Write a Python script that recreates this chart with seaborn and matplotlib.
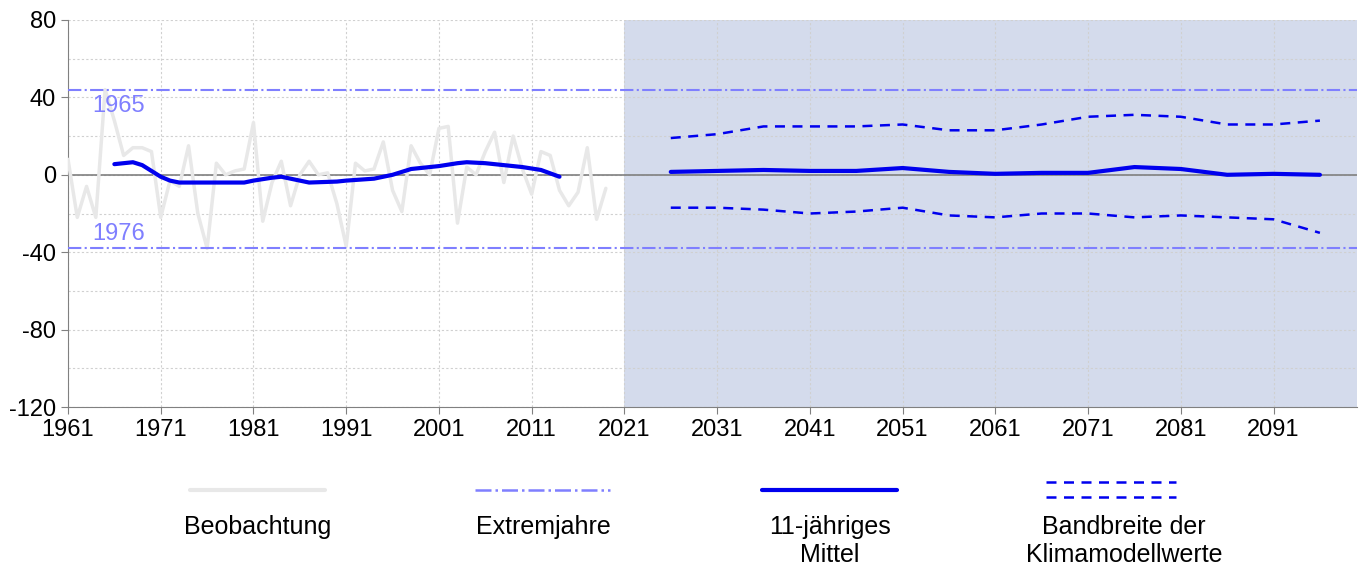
import numpy as np
import pandas as pd
import matplotlib
matplotlib.use("Agg")
import matplotlib.pyplot as plt
import seaborn as sns

obs_years = list(range(1961, 2020))
obs_vals = [8, -22, -6, -22, 44, 28, 10, 14, 14, 12, -22, -3, -6, 15, -20, -38, 6, 0, 2, 3,
            27, -24, -4, 7, -16, 0, 7, 0, 1, -15, -37, 6, 2, 3, 17, -8, -19, 15, 6, 0,
            24, 25, -25, 4, 0, 12, 22, -4, 20, 3, -10, 12, 10, -8, -16, -9, 14, -23, -7]
mean_years = [1966, 1967, 1968, 1969, 1970, 1971, 1972, 1973, 1976, 1980, 1981, 1983, 1984, 1985,
              1987, 1990, 1991, 1994, 1996, 1998, 2000, 2001, 2003, 2004, 2006, 2008, 2010, 2012, 2014]
mean_vals = [5.5, 6, 6.5, 5, 2, -1, -3, -4, -4, -4, -3, -1.5, -1, -2, -4, -3.5, -3, -2, 0, 3,
             4, 4.5, 6, 6.5, 6, 5, 4, 2.5, -1]
fut_years = list(range(2026, 2097, 5))
fut_mean = [1.5, 2, 2.5, 2, 2, 3.5, 1.5, 0.5, 1, 1, 4, 3, 0, 0.5, 0]
fut_upper = [19, 21, 25, 25, 25, 26, 23, 23, 26, 30, 31, 30, 26, 26, 28]
fut_lower = [-17, -17, -18, -20, -19, -17, -21, -22, -20, -20, -22, -21, -22, -23, -30]
extreme_years = ["1965", "1976"]
extreme_vals = [44, -38]
legend_labels = ["Beobachtung", "Extremjahre", "11-jähriges\nMittel", "Bandbreite der\nKlimamodellwerte"]

sns.set_style("white")
plt.rcParams['font.family'] = ['Liberation Sans', 'DejaVu Sans']
plt.rcParams['axes.unicode_minus'] = False

fig = plt.figure(figsize=(13.63, 5.72), dpi=100)
ax = fig.add_axes([68/1363, 1-407/572, (1357-68)/1363, 387/572])

ax.axvspan(2021, 2101, color="#d4dbec", zorder=0, lw=0)
for y in range(-120, 81, 20):
    ax.axhline(y, color="#d0d0d0", lw=0.8, ls=(0, (2, 2)), zorder=1)
for x in range(1961, 2101, 10):
    ax.axvline(x, color="#d0d0d0", lw=0.8, ls=(0, (2, 2)), zorder=1)
ax.axhline(0, color="#808080", lw=1.2, zorder=2)

sns.lineplot(x=obs_years, y=obs_vals, ax=ax, color="#e8e8e8", lw=2.5, zorder=3)
for lab, v in zip(extreme_years, extreme_vals):
    ax.axhline(v, color="#7f7fff", lw=1.5, ls="-.", zorder=4)
    ax.text(1966.5, v - 3 if v > 0 else v + 1.5, lab, color="#7f7fff", fontsize=17,
            ha="center", va="top" if v > 0 else "bottom")
sns.lineplot(x=mean_years, y=mean_vals, ax=ax, color="#0000ee", lw=3, zorder=5)
sns.lineplot(x=fut_years, y=fut_mean, ax=ax, color="#0000ee", lw=3, zorder=5)
sns.lineplot(x=fut_years, y=fut_upper, ax=ax, color="#0000ee", lw=1.8, ls=(0, (4, 3)), zorder=5)
sns.lineplot(x=fut_years, y=fut_lower, ax=ax, color="#0000ee", lw=1.8, ls=(0, (4, 3)), zorder=5)

ax.set_xlim(1961, 2100)
ax.set_ylim(-120, 80)
ax.set_xticks(range(1961, 2100, 10))
ax.set_yticks(range(-120, 81, 40))
ax.tick_params(labelsize=17, labelcolor="black", length=5, color="#808080", direction="out",
               left=True, bottom=True)
for s in ["top", "right"]:
    ax.spines[s].set_visible(False)
for s in ["left", "bottom"]:
    ax.spines[s].set_color("#808080")
ax.set_xlabel(""); ax.set_ylabel("")

lg = fig.add_axes([0, 0, 1, 1 - 420/572])
lg.set_xlim(0, 1363); lg.set_ylim(152, 0); lg.axis("off")
lg.plot([190, 325], [70, 70], color="#e8e8e8", lw=3)
lg.plot([475, 610], [70, 70], color="#7f7fff", lw=1.8, ls="-.")
lg.plot([762, 897], [70, 70], color="#0000ee", lw=3)
lg.plot([1046, 1176], [62, 62], color="#0000ee", lw=1.8, ls=(0, (4, 3)))
lg.plot([1046, 1176], [77, 77], color="#0000ee", lw=1.8, ls=(0, (4, 3)))
for cx, lab in zip([258, 543, 830, 1124], legend_labels):
    lg.text(cx, 95, lab, ha="center", va="top", fontsize=18, linespacing=1.2, color="black")

fig.savefig("out.png", dpi=100)
